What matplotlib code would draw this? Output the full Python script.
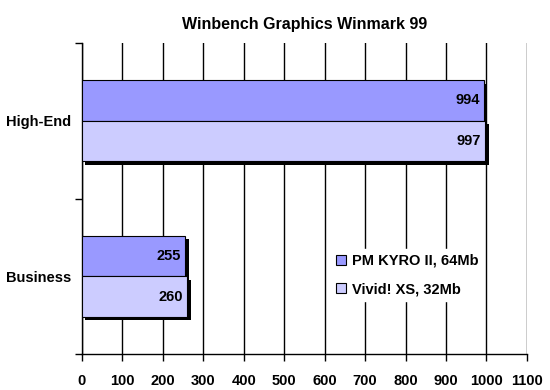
import matplotlib
matplotlib.use("Agg")
import matplotlib.pyplot as plt
import matplotlib.patheffects as pe
import numpy as np

categories = ["High-End", "Business"]
series_names = ["PM KYRO II, 64Mb", "Vivid! XS, 32Mb"]
pm_values = [994, 255]
vivid_values = [997, 260]
x_ticks = [0, 100, 200, 300, 400, 500, 600, 700, 800, 900, 1000, 1100]

plt.rcParams['font.family'] = ['Liberation Sans', 'DejaVu Sans']

fig = plt.figure(figsize=(5.5, 3.9), dpi=100)
ax = fig.add_axes([0.149, 0.092, 0.809, 0.798])

y = np.arange(len(categories))
h = 0.26
shadow = [pe.SimplePatchShadow(offset=(2.5, -2.5), shadow_rgbFace='black', alpha=1.0), pe.Normal()]
b1 = ax.barh(y - h/2, pm_values, height=h, color='#9999FF', edgecolor='black', linewidth=0.8,
             label=series_names[0], zorder=3)
b2 = ax.barh(y + h/2, vivid_values, height=h, color='#CCCCFF', edgecolor='black', linewidth=0.8,
             label=series_names[1], zorder=3)
for bars in (b1, b2):
    for r in bars:
        r.set_path_effects(shadow)

for bars, vals in ((b1, pm_values), (b2, vivid_values)):
    for r, v in zip(bars, vals):
        ax.text(v - 10, r.get_y() + r.get_height()/2, str(v), ha='right', va='center',
                fontsize=10.5, fontweight='bold', zorder=5)

ax.set_xlim(0, 1100)
ax.set_ylim(1.5, -0.5)
ax.set_xticks(x_ticks)
ax.set_xticklabels([str(t) for t in x_ticks], fontsize=10.5, fontweight='bold')
ax.set_yticks(y)
ax.set_yticklabels(categories, fontsize=10.5, fontweight='bold')
ax.set_yticks([-0.5, 0.5, 1.5], minor=True)
ax.tick_params(axis='y', which='major', length=0, pad=8)
ax.tick_params(axis='y', which='minor', length=5, width=1, direction='out')
ax.tick_params(axis='x', length=5, width=1, direction='out', pad=9)
ax.xaxis.grid(True, color='black', linewidth=1, zorder=0)
ax.set_axisbelow(True)
for s in ('top', 'right'):
    ax.spines[s].set_visible(False)
for s in ('left', 'bottom'):
    ax.spines[s].set_linewidth(1)

ax.set_title("Winbench Graphics Winmark 99", fontsize=11.5, fontweight='bold', pad=10)

leg = ax.legend(loc='upper left', bbox_to_anchor=(0.545, 0.36), frameon=True, fancybox=False,
                edgecolor='white', facecolor='white', framealpha=1,
                prop={'size': 10.5, 'weight': 'bold'}, handlelength=0.7, handleheight=0.7,
                handletextpad=0.4, labelspacing=1.0, borderpad=0.3)
leg.set_zorder(6)
for hnd in leg.legend_handles:
    hnd.set_path_effects([])

fig.savefig("out.png", dpi=100)
